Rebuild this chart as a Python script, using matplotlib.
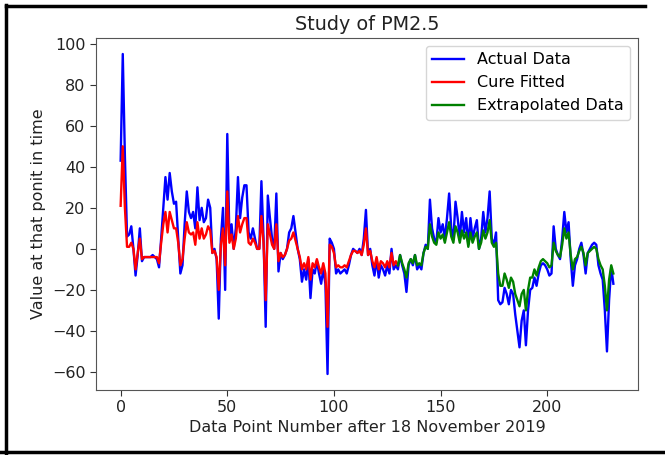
import matplotlib
matplotlib.use("Agg")
import matplotlib.pyplot as plt
from matplotlib.lines import Line2D

actual = [
    43, 95, 45, 6, 7, 11, 0, -13, -3, 10,
    -6, -4, -4, -4, -4, -3, -4, -5, -9, 5,
    20, 35, 24, 37, 28, 22, 23, 5, -12, -8,
    12, 28, 18, 15, 18, 10, 30, 14, 20, 13,
    15, 24, 20, -2, 0, -5, -34, 5, 20, -20,
    56, 5, 12, 0, 10, 35, 15, 25, 31, 31,
    8, 5, 10, 5, 0, 0, 33, 5, -38, 26,
    15, 5, 0, 27, -11, -2, -5, -3, 0, 8,
    10, 16, 8, 0, -5, -16, -10, -15, -5, -24,
    -10, -12, -6, -12, -17, -10, -17, -61, 5, 3,
    0, -12, -10, -12, -11, -10, -12, -8, -3, 0,
    -1, -2, 0, -3, 5, 19, -3, 0, -8, -13,
    -5, -14, -8, -10, -13, -8, -12, 0, -10, -8,
    -10, -3, -8, -12, -21, -8, -5, -8, -3, -10,
    -8, -10, -2, 2, 0, 24, 10, 5, 3, 15,
    8, 12, 5, 15, 27, 10, 5, 23, 15, 5,
    18, 8, 15, 2, 15, 5, 10, 14, 0, 5,
    18, 8, 15, 28, 5, 2, 8, -25, -27, -26,
    -19, -22, -27, -20, -22, -32, -40, -48, -35, -30,
    -47, -30, -20, -19, -14, -18, -12, -8, -7, -8,
    -10, -13, -12, 11, 0, -3, -5, 5, 18, 8,
    13, -5, -18, -8, -5, 0, 3, -3, -12, -2,
    0, 2, 3, 2, -8, -12, -15, -30, -50, -25,
    -9, -17,
]

fitted = [
    21, 50, 20, 1, 1, 3, 0, -10, -2, 5,
    -5, -4, -4, -4, -4, -4, -4, -4, -7, 3,
    12, 18, 8, 18, 14, 10, 10, 3, -8, -5,
    5, 13, 8, 7, 8, 2, 13, 5, 10, 5,
    7, 11, 9, -2, -1, -4, -20, 2, 10, -8,
    28, 3, 7, 0, 5, 16, 8, 12, 15, 15,
    3, 2, 5, 3, 0, 0, 16, 3, -25, 12,
    7, 2, 0, 12, -6, -2, -4, -3, 0, 4,
    5, 8, 4, 0, -4, -10, -7, -10, -4, -15,
    -7, -9, -5, -9, -12, -7, -12, -38, 2, 1,
    -2, -9, -8, -9, -9, -8, -9, -6, -3, -1,
    -1, -2, -1, -3, 2, 10, -3, -1, -6, -9,
    -4, -10, -6, -7, -9, -6, -9, -2, -8, -6,
    -8,
]

extrapolated = [
    -8, -3, -7, -10, -14, -7, -5, -7, -3, -8,
    -7, -8, -2, 1, 0, 12, 6, 3, 2, 8,
    5, 7, 3, 8, 13, 6, 3, 11, 8, 3,
    9, 5, 8, 1, 8, 3, 6, 8, 0, 3,
    9, 5, 8, 14, 3, 1, 3, -12, -18, -18,
    -12, -15, -19, -14, -16, -22, -25, -28, -22, -20,
    -30, -20, -14, -14, -10, -13, -9, -6, -5, -6,
    -7, -9, -8, 3, -1, -3, -4, 2, 10, 5,
    8, -3, -10, -5, -4, -1, 1, -2, -8, -2,
    -1, 0, 1, 0, -5, -8, -10, -18, -30, -15,
    -8, -12,
]

x_actual = list(range(len(actual)))
x_fit = list(range(len(fitted)))
start_ext = len(fitted) - 1
x_ext = list(range(start_ext, start_ext + len(extrapolated)))

fs = 11.5
fig = plt.figure(figsize=(6.65, 4.55), dpi=100)
ax = fig.add_axes([96/665, 1-390/455, (638-96)/665, (390-38)/455])

ax.plot(x_actual, actual, color="blue", lw=1.7, label="Actual Data")
ax.plot(x_fit, fitted, color="red", lw=1.7, label="Cure Fitted")
ax.plot(x_ext, extrapolated, color="green", lw=1.7, label="Extrapolated Data")

ax.set_title("Study of PM2.5", fontsize=13.8, color="#222222", pad=6)
ax.set_xlabel("Data Point Number after 18 November 2019", fontsize=fs, color="#222222", labelpad=3)
ax.set_ylabel("Value at that ponit in time", fontsize=fs, color="#222222", labelpad=4)
ax.set_xticks([0, 50, 100, 150, 200])
ax.set_yticks([-60, -40, -20, 0, 20, 40, 60, 80, 100])
ax.tick_params(labelsize=fs, length=4, colors="#333333", labelcolor="#222222")
for sp in ax.spines.values():
    sp.set_color("#555555")
ax.legend(loc="upper right", fontsize=fs)

# screenshot black frame
for (xs, ys) in [((6/665, 6/665), (0, 1-5/455)),
                 ((6/665, 645/665), (1-6/455, 1-6/455)),
                 ((0, 1), (3/455, 3/455))]:
    fig.add_artist(Line2D(xs, ys, transform=fig.transFigure, color="black", lw=2.5))

fig.savefig("out.png", dpi=100)
